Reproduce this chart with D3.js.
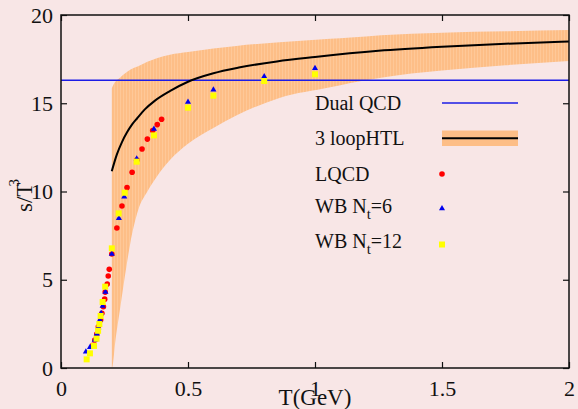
<!DOCTYPE html>
<html>
<head>
<meta charset="utf-8">
<script src="https://cdn.jsdelivr.net/npm/d3@7"></script>
<style>
  html, body { margin: 0; padding: 0; background: #f8e6e6; }
  svg { display: block; }
  svg text { font-family: "Liberation Serif", "DejaVu Serif", serif !important; fill: #111; }
</style>
</head>
<body>
<svg id="chart" width="578" height="409"></svg>
<script>
// Dual QCD entropy density (constant)
const dualQCD = 16.3;

// 3-loop HTL: central curve
const htlT      = [0.2, 0.21, 0.22, 0.24, 0.26, 0.28, 0.3, 0.33, 0.37, 0.43, 0.5, 0.6, 0.7, 0.85, 1.0, 1.25, 1.5, 1.75, 2.0];
const htlCenter = [11.15, 11.65, 12.1, 12.8, 13.35, 13.8, 14.15, 14.65, 15.15, 15.7, 16.22, 16.7, 17.02, 17.37, 17.62, 17.97, 18.2, 18.37, 18.5];

// 3-loop HTL: uncertainty band
const bandT     = [0.2, 0.203, 0.213, 0.232, 0.258, 0.272, 0.304, 0.34, 0.377, 0.429, 0.5, 0.6, 0.69, 0.86, 1.06, 1.14, 1.26, 1.5, 1.75, 2.0];
const bandLower = [0, 0.1, 1.4, 3.3, 5.8, 7.0, 8.95, 10.0, 10.84, 11.78, 12.7, 13.6, 14.3, 15.3, 15.9, 16.15, 16.45, 16.85, 17.15, 17.4];
const bandUpper = [15.85, 15.95, 16.2, 16.45, 16.75, 16.9, 17.1, 17.35, 17.55, 17.75, 17.9, 18.1, 18.25, 18.45, 18.65, 18.72, 18.85, 19.0, 19.08, 19.15];

// Lattice QCD
const lqcdT = [0.125, 0.133, 0.141, 0.147, 0.156, 0.161, 0.167, 0.172, 0.174, 0.182, 0.186, 0.19, 0.2, 0.22, 0.24, 0.26, 0.28, 0.299, 0.319, 0.34, 0.361, 0.379, 0.396];
const lqcdS = [1.29, 1.59, 1.93, 2.34, 2.72, 3.1, 3.47, 3.9, 4.3, 4.76, 5.21, 5.59, 6.46, 7.93, 9.18, 10.22, 11.09, 11.78, 12.41, 12.97, 13.45, 13.79, 14.09];

// Wuppertal-Budapest, N_t = 6
const wb6T = [0.098, 0.114, 0.133, 0.141, 0.147, 0.153, 0.158, 0.164, 0.175, 0.2, 0.228, 0.249, 0.298, 0.366, 0.5, 0.6, 0.8, 1.0];
const wb6S = [0.92, 1.17, 1.59, 1.93, 2.3, 2.72, 3.1, 3.51, 4.3, 6.46, 8.48, 9.7, 11.86, 13.54, 15.07, 15.77, 16.52, 16.98];

// Wuppertal-Budapest, N_t = 12
const wb12T = [0.101, 0.114, 0.13, 0.14, 0.146, 0.151, 0.156, 0.164, 0.174, 0.2, 0.227, 0.251, 0.298, 0.366, 0.5, 0.6, 0.8, 1.0];
const wb12S = [0.49, 0.83, 1.25, 1.66, 2.11, 2.49, 2.95, 3.74, 4.61, 6.78, 8.76, 9.93, 11.69, 13.18, 14.75, 15.43, 16.26, 16.64];

// Axis ticks
const xTicks = [0, 0.5, 1, 1.5, 2];
const yTicks = [0, 5, 10, 15, 20];

// Legend entries
const legendNames = ["Dual QCD", "3 loopHTL", "LQCD", "WB N_t=6", "WB N_t=12"];

const colors = {
  dual: "#1c1ce6",
  band: "#fdbe87",
  bandStripe: "#ffcfa4",
  htl: "#000000",
  lqcd: "#ff0000",
  wb6: "#0000ee",
  wb12: "#ffff00"
};

const serif = '"Liberation Serif", "DejaVu Serif", serif';
const svg = d3.select("#chart");
const margin = { left: 61, right: 9, top: 15, bottom: 41 };
const W = 578, H = 409;
const x = d3.scaleLinear().domain([0, 2]).range([margin.left, W - margin.right]);
const y = d3.scaleLinear().domain([0, 20]).range([H - margin.bottom, margin.top]);

const defs = svg.append("defs");
const pat = defs.append("pattern")
  .attr("id", "bandFill").attr("patternUnits", "userSpaceOnUse")
  .attr("width", 3).attr("height", 10);
pat.append("rect").attr("width", 3).attr("height", 10).attr("fill", colors.band);
pat.append("rect").attr("width", 1).attr("height", 10).attr("fill", colors.bandStripe).attr("opacity", 0.6);

defs.append("clipPath").attr("id", "plotClip")
  .append("rect")
  .attr("x", x(0)).attr("y", y(20))
  .attr("width", x(2) - x(0)).attr("height", y(0) - y(20));

const plot = svg.append("g").attr("clip-path", "url(#plotClip)");

// HTL band
const bandData = bandT.map((t, i) => ({ t, lo: bandLower[i], hi: bandUpper[i] }));
plot.append("path")
  .datum(bandData)
  .attr("fill", "url(#bandFill)")
  .attr("d", d3.area()
    .x(d => x(d.t)).y0(d => y(d.lo)).y1(d => y(d.hi))
    .curve(d3.curveMonotoneX));

// Dual QCD line
plot.append("line")
  .attr("x1", x(0)).attr("x2", x(2))
  .attr("y1", y(dualQCD)).attr("y2", y(dualQCD))
  .attr("stroke", colors.dual).attr("stroke-width", 1.6);

// HTL central curve
plot.append("path")
  .datum(htlT.map((t, i) => ({ t, s: htlCenter[i] })))
  .attr("fill", "none").attr("stroke", colors.htl).attr("stroke-width", 2)
  .attr("d", d3.line().x(d => x(d.t)).y(d => y(d.s)).curve(d3.curveMonotoneX));

// LQCD points
plot.append("g").selectAll("circle")
  .data(lqcdT.map((t, i) => ({ t, s: lqcdS[i] })))
  .join("circle")
  .attr("cx", d => x(d.t)).attr("cy", d => y(d.s)).attr("r", 2.8)
  .attr("fill", colors.lqcd);

// WB N_t=6 triangles
const tri = d3.symbol().type(d3.symbolTriangle).size(16);
plot.append("g").selectAll("path")
  .data(wb6T.map((t, i) => ({ t, s: wb6S[i] })))
  .join("path")
  .attr("transform", d => `translate(${x(d.t)},${y(d.s)})`)
  .attr("d", tri).attr("fill", colors.wb6);

// WB N_t=12 squares
plot.append("g").selectAll("rect")
  .data(wb12T.map((t, i) => ({ t, s: wb12S[i] })))
  .join("rect")
  .attr("x", d => x(d.t) - 3).attr("y", d => y(d.s) - 3)
  .attr("width", 6).attr("height", 6)
  .attr("fill", colors.wb12);

// Axes with inward ticks on all four sides
const tickLen = 6;
const gx = svg.append("g").attr("transform", `translate(0,${y(0)})`)
  .call(d3.axisBottom(x).tickValues(xTicks).tickFormat(d3.format("~g"))
    .tickSizeInner(-tickLen).tickSizeOuter(0).tickPadding(12));
const gy = svg.append("g").attr("transform", `translate(${x(0)},0)`)
  .call(d3.axisLeft(y).tickValues(yTicks).tickFormat(d3.format("~g"))
    .tickSizeInner(-tickLen).tickSizeOuter(0).tickPadding(8));
const gxt = svg.append("g").attr("transform", `translate(0,${y(20)})`)
  .call(d3.axisTop(x).tickValues(xTicks).tickFormat("")
    .tickSizeInner(-tickLen).tickSizeOuter(0));
const gyr = svg.append("g").attr("transform", `translate(${x(2)},0)`)
  .call(d3.axisRight(y).tickValues(yTicks).tickFormat("")
    .tickSizeInner(-tickLen).tickSizeOuter(0));
[gx, gy, gxt, gyr].forEach(g => {
  g.attr("font-family", null).attr("font-size", null);
  g.select(".domain").remove();
  g.selectAll(".tick line").attr("stroke", "#111").attr("stroke-width", 1.2);
  g.selectAll(".tick text")
    .style("font-family", serif)
    .style("font-size", "22px").attr("fill", "#111");
});

// Frame
svg.append("rect")
  .attr("x", x(0)).attr("y", y(20))
  .attr("width", x(2) - x(0)).attr("height", y(0) - y(20))
  .attr("fill", "none").attr("stroke", "#111").attr("stroke-width", 1.5);

// Axis titles
svg.append("text")
  .attr("x", (x(0) + x(2)) / 2).attr("y", 405)
  .attr("text-anchor", "middle").style("font-size", "23px")
  .text("T(GeV)");

const yTitle = svg.append("text")
  .attr("transform", "translate(32,212) rotate(-90)")
  .style("font-size", "23px");
yTitle.append("tspan").text("s/T");
yTitle.append("tspan").style("font-size", "15px").attr("dy", -13).attr("dx", -4).text("3");

// Legend
const legX = 315, legSym = 442, legEnd = 518;
const legY = [110, 145, 181, 213, 248];
const leg = svg.append("g");
legendNames.forEach((name, i) => {
  const t = leg.append("text").attr("x", legX).attr("y", legY[i]).style("font-size", "20px");
  const parts = name.split("_");
  if (parts.length === 1) {
    t.text(name);
  } else {
    const sub = parts[1][0], rest = parts[1].slice(1);
    t.append("tspan").text(parts[0]);
    t.append("tspan").style("font-size", "15px").attr("dy", 6).text(sub);
    t.append("tspan").attr("dy", -6).text(rest);
  }
});
// Dual QCD swatch
leg.append("line")
  .attr("x1", legSym).attr("x2", legEnd).attr("y1", 103).attr("y2", 103)
  .attr("stroke", colors.dual).attr("stroke-width", 1.6);
// HTL swatch
leg.append("rect")
  .attr("x", legSym).attr("y", 130.5).attr("width", legEnd - legSym).attr("height", 15.5)
  .attr("fill", colors.band);
leg.append("line")
  .attr("x1", legSym).attr("x2", legEnd).attr("y1", 138.3).attr("y2", 138.3)
  .attr("stroke", colors.htl).attr("stroke-width", 2);
// Point symbols
leg.append("circle").attr("cx", legSym).attr("cy", 174).attr("r", 2.8).attr("fill", colors.lqcd);
leg.append("path").attr("transform", `translate(${legSym},208.5)`).attr("d", tri).attr("fill", colors.wb6);
leg.append("rect").attr("x", legSym - 3).attr("y", 241.5).attr("width", 6).attr("height", 6).attr("fill", colors.wb12);
</script>
</body>
</html>
